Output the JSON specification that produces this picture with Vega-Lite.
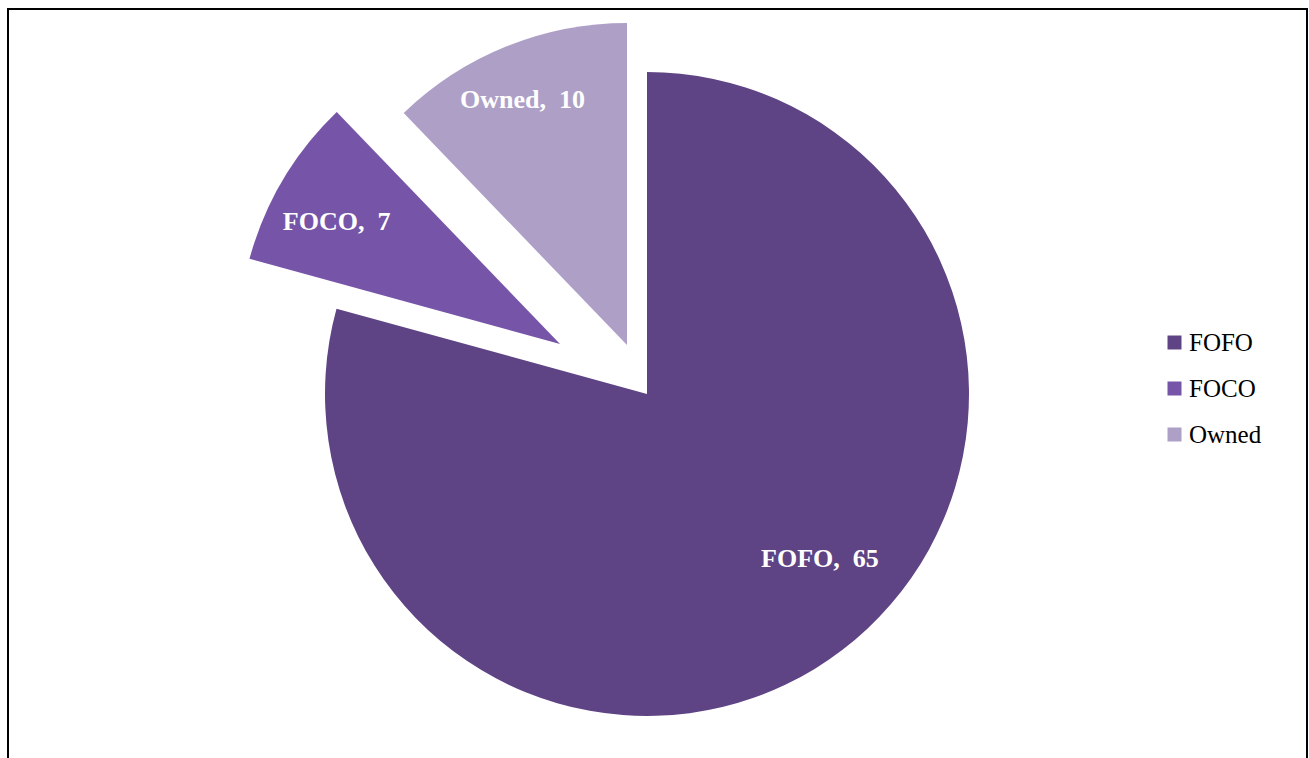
{
  "$schema": "https://vega.github.io/schema/vega-lite/v6.json",
  "width": 1299,
  "height": 760,
  "autosize": {"type": "none"},
  "padding": {"left": 8, "top": 9, "right": 2, "bottom": 0},
  "background": "white",
  "view": {"stroke": "black", "strokeWidth": 2},
  "config": {
    "view": {"stroke": "black", "strokeWidth": 2},
    "legend": {
      "orient": "none",
      "legendX": 1154,
      "legendY": 321,
      "symbolType": "square",
      "symbolSize": 196,
      "symbolStrokeWidth": 0,
      "labelFont": "Liberation Serif",
      "labelFontSize": 25,
      "labelColor": "black",
      "labelOffset": 2,
      "rowPadding": 20,
      "title": null
    }
  },
  "data": {
    "values": [
      {"category": "FOFO", "value": 65, "order": 1, "label": "FOFO,\u00a0 65"},
      {"category": "FOCO", "value": 7, "order": 2, "label": "FOCO,\u00a0 7"},
      {"category": "Owned", "value": 10, "order": 3, "label": "Owned,\u00a0 10"}
    ]
  },
  "layer": [
    {
      "mark": {"type": "arc", "outerRadius": 322, "xOffset": -10.5, "yOffset": 5},
      "encoding": {
        "theta": {"field": "value", "type": "quantitative", "stack": true},
        "order": {"field": "order", "type": "quantitative"},
        "color": {"field": "category", "type": "nominal", "scale": {"domain": ["FOFO", "FOCO", "Owned"], "range": ["#5f4485", "#7654a7", "#ae9fc7"]}, "legend": {}},
        "opacity": {"condition": {"test": "datum.category === 'FOFO'", "value": 1}, "value": 0}
      }
    },
    {
      "mark": {"type": "arc", "outerRadius": 322, "xOffset": -97.5, "yOffset": -45},
      "encoding": {
        "theta": {"field": "value", "type": "quantitative", "stack": true},
        "order": {"field": "order", "type": "quantitative"},
        "color": {"field": "category", "type": "nominal"},
        "opacity": {"condition": {"test": "datum.category === 'FOCO'", "value": 1}, "value": 0}
      }
    },
    {
      "mark": {"type": "arc", "outerRadius": 322, "xOffset": -30.5, "yOffset": -44},
      "encoding": {
        "theta": {"field": "value", "type": "quantitative", "stack": true},
        "order": {"field": "order", "type": "quantitative"},
        "color": {"field": "category", "type": "nominal"},
        "opacity": {"condition": {"test": "datum.category === 'Owned'", "value": 1}, "value": 0}
      }
    },
    {
      "mark": {"type": "text", "radius": 239, "xOffset": 17.5, "yOffset": -20, "font": "Liberation Serif", "fontWeight": "bold", "fontSize": 26, "fill": "white", "align": "center", "baseline": "middle"},
      "encoding": {
        "theta": {"field": "value", "type": "quantitative", "stack": true},
        "order": {"field": "order", "type": "quantitative"},
        "text": {"condition": {"test": "datum.category === 'FOFO'", "field": "label"}, "value": ""}
      }
    },
    {
      "mark": {"type": "text", "radius": 254, "xOffset": -102.5, "yOffset": -37, "font": "Liberation Serif", "fontWeight": "bold", "fontSize": 26, "fill": "white", "align": "center", "baseline": "middle"},
      "encoding": {
        "theta": {"field": "value", "type": "quantitative", "stack": true},
        "order": {"field": "order", "type": "quantitative"},
        "text": {"condition": {"test": "datum.category === 'FOCO'", "field": "label"}, "value": ""}
      }
    },
    {
      "mark": {"type": "text", "radius": 266, "xOffset": -35.5, "yOffset": -42, "font": "Liberation Serif", "fontWeight": "bold", "fontSize": 26, "fill": "white", "align": "center", "baseline": "middle"},
      "encoding": {
        "theta": {"field": "value", "type": "quantitative", "stack": true},
        "order": {"field": "order", "type": "quantitative"},
        "text": {"condition": {"test": "datum.category === 'Owned'", "field": "label"}, "value": ""}
      }
    }
  ]
}
